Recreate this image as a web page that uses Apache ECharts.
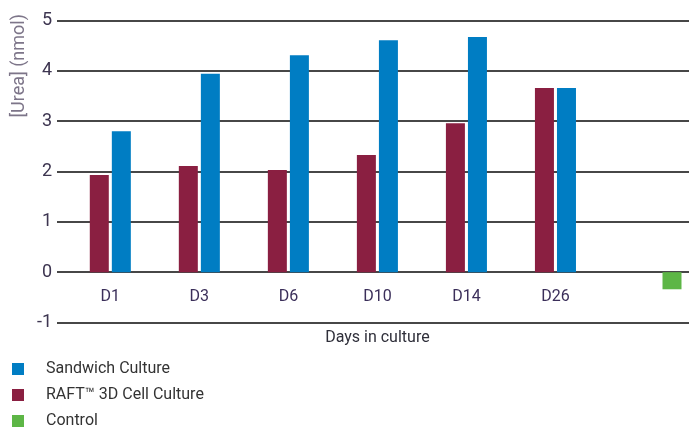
<!DOCTYPE html>
<html>
<head>
<meta charset="utf-8">
<script src="https://cdn.jsdelivr.net/npm/echarts@6/dist/echarts.min.js"></script>
<style>
html,body{margin:0;padding:0;background:#fff;}
#chart{width:689px;height:431px;}
</style>
</head>
<body>
<div id="chart"></div>
<script>
const categories = ['D1', 'D3', 'D6', 'D10', 'D14', 'D26', ''];
const sandwichValues = [2.80, 3.94, 4.31, 4.61, 4.67, 3.66, null];
const raftValues = [1.93, 2.11, 2.03, 2.33, 2.96, 3.66, null];
const controlValues = [null, null, null, null, null, null, -0.34];
const yTicks = [-1, 0, 1, 2, 3, 4, 5];

const FONT = 'Roboto, "Noto Sans", sans-serif';
const chart = echarts.init(document.getElementById('chart'), null, {renderer: 'canvas'});

const yMin = yTicks[0], yMax = yTicks[yTicks.length - 1];
const chartH = 431;
const gridTop = 20.5, gridBottom = 108.5;
const gridH = chartH - gridTop - gridBottom;
// distance from the grid bottom (y = yMin) up to the y = 0 line
const zeroOffset = gridH / (yMax - yMin) * (0 - yMin);

const option = {
  animation: false,
  backgroundColor: '#ffffff',
  textStyle: {fontFamily: FONT},
  grid: [
    {left: 57, right: 0, top: gridTop, height: gridH},
    {left: 65.8, right: 0, top: gridTop, height: gridH},
    {left: 451, right: 0, top: gridTop, height: gridH}
  ],
  xAxis: [
    {gridIndex: 0, type: 'category', data: categories, show: false},
    {
      gridIndex: 1, type: 'category', data: categories,
      offset: -zeroOffset,
      axisLine: {show: false, onZero: false},
      axisTick: {show: false},
      axisLabel: {color: '#3b2f5a', fontSize: 16, margin: 17, fontFamily: FONT},
      name: 'Days in culture', nameLocation: 'middle', nameGap: 58,
      nameTextStyle: {color: '#2f2f3a', fontSize: 16, fontFamily: FONT}
    },
    {gridIndex: 2, type: 'category', data: categories, show: false}
  ],
  yAxis: [
    {
      gridIndex: 0, type: 'value', min: yMin, max: yMax, interval: 1,
      axisLine: {show: false}, axisTick: {show: false},
      axisLabel: {color: '#3d3550', fontSize: 18, margin: 5, fontFamily: FONT},
      splitLine: {lineStyle: {color: '#474747', width: 2}}
    },
    {gridIndex: 1, type: 'value', min: yMin, max: yMax, interval: 1, show: false, splitLine: {show: false}},
    {gridIndex: 2, type: 'value', min: yMin, max: yMax, interval: 1, show: false, splitLine: {show: false}}
  ],
  legend: {
    orient: 'vertical', left: 12, top: 361, padding: 0, height: 100,
    itemWidth: 12, itemHeight: 12, itemGap: 10,
    icon: 'rect',
    data: ['Sandwich Culture', 'RAFT™ 3D Cell Culture', 'Control'],
    textStyle: {color: '#333333', fontSize: 16, fontFamily: FONT, padding: [0, 0, 0, 17]}
  },
  graphic: [{
    type: 'text', left: 10, top: 14, rotation: Math.PI / 2,
    style: {text: '[Urea] (nmol)', fill: '#7d7589', font: '18px ' + FONT}
  }],
  series: [
    {
      name: 'RAFT™ 3D Cell Culture', type: 'bar', xAxisIndex: 1, yAxisIndex: 1,
      data: raftValues, barWidth: 19, barGap: '16%',
      itemStyle: {color: '#8a1f41'}
    },
    {
      name: 'Sandwich Culture', type: 'bar', xAxisIndex: 1, yAxisIndex: 1,
      data: sandwichValues, barWidth: 19, barGap: '16%',
      itemStyle: {color: '#007dc3'}
    },
    {
      name: 'Control', type: 'bar', xAxisIndex: 2, yAxisIndex: 2,
      data: controlValues, barWidth: 19,
      itemStyle: {color: '#5db646'}
    }
  ]
};
chart.setOption(option);
</script>
</body>
</html>
